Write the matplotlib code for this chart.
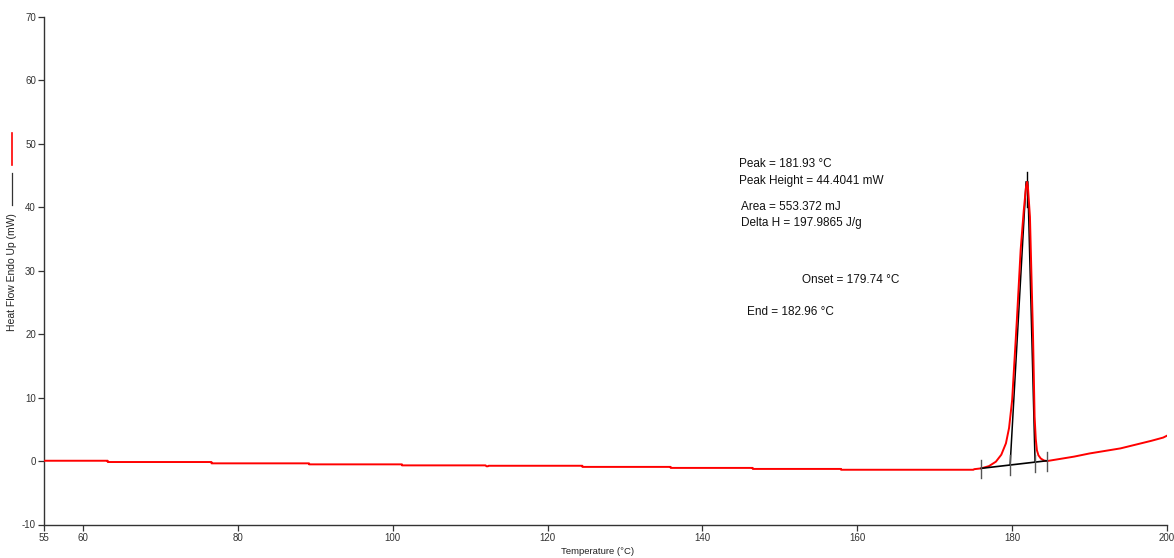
import matplotlib
matplotlib.use("Agg")
import matplotlib.pyplot as plt
from matplotlib.lines import Line2D

plt.rcParams['font.family'] = ['Liberation Sans', 'DejaVu Sans']
plt.rcParams['axes.unicode_minus'] = False

# DSC heating curve: temperature (°C) and heat flow (mW), endo up
temperature = [55.0, 63.2, 63.2, 76.6, 76.6, 89.2, 89.2, 101.2, 101.2, 112.0, 112.1,
               112.3, 112.4, 124.5, 124.5, 135.9, 135.9, 146.5, 146.5, 157.9, 157.9,
               175.0, 175.1, 176.0, 177.0, 177.9, 178.6, 179.2, 179.6, 180.0, 180.6,
               181.1, 181.5, 181.8, 181.93, 182.05, 182.3, 182.5, 182.7, 182.9, 183.05,
               183.2, 183.4, 183.7, 184.1, 184.5, 186.0, 188.0, 190.0, 192.0, 194.0,
               196.0, 198.0, 199.5, 200.0]
heat_flow = [0.05, 0.05, -0.15, -0.15, -0.36, -0.36, -0.52, -0.52, -0.68, -0.68, -0.82,
             -0.82, -0.74, -0.74, -0.92, -0.92, -1.08, -1.08, -1.24, -1.24, -1.37,
             -1.37, -1.28, -1.15, -0.8, -0.1, 1.0, 2.8, 5.2, 9.6, 22.0,
             33.3, 39.5, 43.3, 44.0, 43.0, 38.5, 29.0, 19.6, 7.0, 3.5,
             1.7, 0.9, 0.4, 0.1, 0.0, 0.3, 0.7, 1.2, 1.6, 2.0,
             2.6, 3.2, 3.7, 4.0]

# Peak analysis results
peak_temp = 181.93
peak_height = 44.4041
area = 553.372
delta_h = 197.9865
onset_temp = 179.74
end_temp = 182.96

# Integration baseline limits (°C, mW)
base_start = (176.0, -1.15)
base_end = (184.5, 0.05)

x_ticks = [55, 60, 80, 100, 120, 140, 160, 180, 200]
y_ticks = [-10, 0, 10, 20, 30, 40, 50, 60, 70]

W, H = 1174, 558
fig = plt.figure(figsize=(W / 100, H / 100), dpi=100)
ax = fig.add_axes([44.25 / W, 1 - 524.5 / H, (1167 - 44.25) / W, (524.5 - 17) / H])

ax.plot(temperature, heat_flow, color='#ff0000', lw=1.4, solid_joinstyle='round', zorder=3)


def base_at(t):
    (x0, y0), (x1, y1) = base_start, base_end
    return y0 + (t - x0) * (y1 - y0) / (x1 - x0)


# Baseline and tangent construction
ax.plot([base_start[0], base_end[0]], [base_start[1], base_end[1]], color='black', lw=1.2, zorder=4)
onset_base = base_at(onset_temp)
end_base = base_at(end_temp)
ax.plot([onset_temp, 181.8], [onset_base, 44.0], color='black', lw=1.1, zorder=2)
ax.plot([end_temp, 182.02], [end_base, 44.0], color='black', lw=1.1, zorder=2)
ax.plot([peak_temp, peak_temp], [40.0, 45.6], color='black', lw=1.0, zorder=2)

# Markers at the integration limits, onset and end
for t, lo, hi in [(base_start[0], -2.7, 0.2), (onset_temp, -2.2, 1.0),
                  (end_temp, -1.7, 1.0), (base_end[0], -1.5, 1.5)]:
    ax.plot([t, t], [lo, hi], color='#555555', lw=1.0, zorder=4)

txt = dict(fontsize=8.5, color='#111111', va='center', ha='left')
ax.text(144.77, 46.8, f"Peak = {peak_temp:.2f} °C", **txt)
ax.text(144.77, 44.2, f"Peak Height = {peak_height:.4f} mW", **txt)
ax.text(144.95, 40.1, f"Area = {area:.3f} mJ", **txt)
ax.text(144.95, 37.5, f"Delta H = {delta_h:.4f} J/g", **txt)
ax.text(152.9, 28.5, f"Onset = {onset_temp:.2f} °C", **txt)
ax.text(145.7, 23.5, f"End = {end_temp:.2f} °C", **txt)

ax.set_xlim(55, 200)
ax.set_ylim(-10, 70)
ax.set_xticks(x_ticks)
ax.set_yticks(y_ticks)
ax.tick_params(direction='out', length=4, width=0.9, color='#333333',
               labelsize=7, labelcolor='#333333', pad=2)
for side in ('top', 'right'):
    ax.spines[side].set_visible(False)
for side in ('left', 'bottom'):
    ax.spines[side].set_color('#333333')
    ax.spines[side].set_linewidth(1.0)

fig.text(598 / W, 1 - 552 / H, "Temperature (°C)", fontsize=6.8, color='#222222',
         ha='center', va='center')
fig.text(12 / W, 1 - 272 / H, "Heat Flow Endo Up (mW)", fontsize=7.5, color='#222222',
         rotation=90, ha='center', va='center')
fig.add_artist(Line2D([12 / W, 12 / W], [1 - 133 / H, 1 - 165 / H], color='#ff0000', lw=1.2))
fig.add_artist(Line2D([12 / W, 12 / W], [1 - 173 / H, 1 - 205 / H], color='#333333', lw=0.9))

fig.savefig("out.png", dpi=100, facecolor='white')
